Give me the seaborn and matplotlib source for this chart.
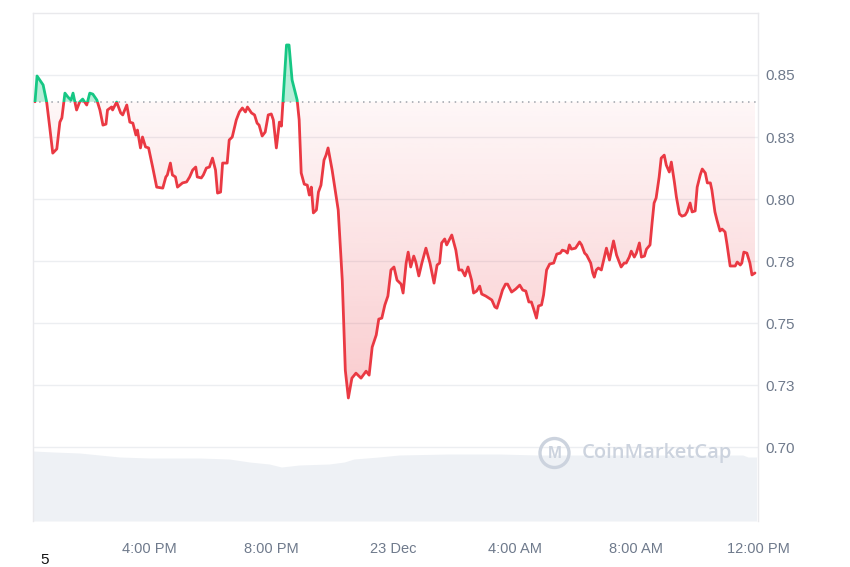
import matplotlib
matplotlib.use("Agg")
import matplotlib.pyplot as plt
from matplotlib.path import Path
from matplotlib.patches import Rectangle, Circle
import numpy as np
import pandas as pd
import seaborn as sns

# price, minutes after 12:00 PM on 22 Dec
minutes = [
    14, 18, 30, 37, 43, 49, 57, 63, 67, 73,
    79, 85, 89, 96, 102, 108, 116, 122, 128, 136,
    142, 148, 154, 157, 165, 167, 175, 183, 187, 195,
    201, 207, 213, 216, 222, 226, 232, 238, 246, 254,
    266, 272, 275, 281, 285, 291, 295, 305, 313, 319,
    325, 331, 334, 342, 346, 352, 358, 364, 370, 374,
    380, 384, 393, 397, 403, 411, 417, 423, 429, 433,
    441, 447, 452, 456, 462, 468, 474, 480, 484, 490,
    496, 500, 510, 515, 521, 531, 535, 539, 545, 551,
    555, 559, 563, 569, 573, 578, 584, 588, 592, 600,
    606, 612, 620, 626, 632, 639, 647, 657, 667, 673,
    679, 687, 692, 698, 704, 710, 716, 722, 728, 736,
    740, 746, 750, 755, 761, 765, 771, 777, 785, 793,
    801, 807, 812, 816, 822, 826, 836, 844, 850, 856,
    862, 868, 875, 879, 885, 891, 895, 903, 909, 915,
    921, 925, 932, 936, 942, 946, 954, 962, 970, 976,
    982, 988, 993, 997, 1003, 1007, 1013, 1017, 1023, 1029,
    1037, 1043, 1050, 1054, 1060, 1064, 1068, 1072, 1080, 1088,
    1092, 1098, 1102, 1110, 1114, 1117, 1121, 1125, 1131, 1137,
    1141, 1147, 1155, 1161, 1167, 1170, 1176, 1180, 1186, 1190,
    1196, 1200, 1206, 1210, 1216, 1220, 1227, 1231, 1235, 1239,
    1245, 1249, 1255, 1259, 1265, 1269, 1275, 1279, 1285, 1290,
    1296, 1300, 1306, 1310, 1316, 1320, 1326, 1330, 1336, 1340,
    1346, 1349, 1355, 1359, 1365, 1369, 1375, 1379, 1385, 1389,
    1395, 1399, 1405, 1408, 1412, 1418, 1424, 1428, 1434,
]
prices = [
    0.8392, 0.8496, 0.8460, 0.8391, 0.8290, 0.8185, 0.8202, 0.8310, 0.8327, 0.8427,
    0.8411, 0.8399, 0.8427, 0.8359, 0.8391, 0.8403, 0.8379, 0.8427, 0.8423, 0.8399,
    0.8359, 0.8298, 0.8302, 0.8359, 0.8371, 0.8359, 0.8391, 0.8347, 0.8339, 0.8379,
    0.8310, 0.8306, 0.8258, 0.8278, 0.8206, 0.8250, 0.8210, 0.8206, 0.8129, 0.8048,
    0.8044, 0.8089, 0.8097, 0.8145, 0.8097, 0.8089, 0.8048, 0.8065, 0.8069, 0.8089,
    0.8117, 0.8129, 0.8089, 0.8085, 0.8097, 0.8125, 0.8129, 0.8165, 0.8117, 0.8024,
    0.8028, 0.8145, 0.8145, 0.8238, 0.8250, 0.8319, 0.8351, 0.8367, 0.8351, 0.8371,
    0.8347, 0.8339, 0.8306, 0.8298, 0.8254, 0.8270, 0.8339, 0.8343, 0.8319, 0.8206,
    0.8310, 0.8294, 0.8621, 0.8621, 0.8480, 0.8399, 0.8319, 0.8105, 0.8060, 0.8056,
    0.8016, 0.8048, 0.7944, 0.7956, 0.8028, 0.8056, 0.8157, 0.8177, 0.8206, 0.8117,
    0.8036, 0.7956, 0.7673, 0.7310, 0.7198, 0.7278, 0.7298, 0.7278, 0.7306, 0.7290,
    0.7403, 0.7452, 0.7516, 0.7520, 0.7573, 0.7609, 0.7714, 0.7726, 0.7673, 0.7657,
    0.7621, 0.7742, 0.7786, 0.7726, 0.7770, 0.7746, 0.7690, 0.7742, 0.7802, 0.7742,
    0.7661, 0.7734, 0.7742, 0.7823, 0.7839, 0.7815, 0.7855, 0.7794, 0.7714, 0.7714,
    0.7690, 0.7726, 0.7673, 0.7621, 0.7629, 0.7649, 0.7617, 0.7609, 0.7601, 0.7593,
    0.7565, 0.7560, 0.7605, 0.7633, 0.7657, 0.7657, 0.7625, 0.7637, 0.7653, 0.7633,
    0.7629, 0.7585, 0.7585, 0.7560, 0.7520, 0.7569, 0.7573, 0.7613, 0.7714, 0.7738,
    0.7742, 0.7778, 0.7782, 0.7794, 0.7790, 0.7782, 0.7815, 0.7798, 0.7802, 0.7827,
    0.7815, 0.7782, 0.7774, 0.7742, 0.7702, 0.7685, 0.7714, 0.7722, 0.7714, 0.7766,
    0.7802, 0.7754, 0.7831, 0.7774, 0.7742, 0.7726, 0.7742, 0.7742, 0.7766, 0.7790,
    0.7766, 0.7782, 0.7823, 0.7766, 0.7770, 0.7798, 0.7815, 0.7903, 0.7984, 0.8004,
    0.8089, 0.8165, 0.8177, 0.8137, 0.8109, 0.8149, 0.8069, 0.8008, 0.7940, 0.7931,
    0.7935, 0.7948, 0.7984, 0.7948, 0.7952, 0.8048, 0.8097, 0.8121, 0.8105, 0.8065,
    0.8065, 0.8036, 0.7948, 0.7915, 0.7871, 0.7879, 0.7867, 0.7815, 0.7730, 0.7730,
    0.7730, 0.7746, 0.7734, 0.7742, 0.7786, 0.7782, 0.7742, 0.7694, 0.7702,
]
open_price = 0.8392

# volume (M), same time base
vol_minutes = [10, 51, 102, 181, 240, 338, 397, 437, 476, 500, 535, 594,
               624, 643, 692, 732, 830, 929, 1007, 1125, 1322, 1410, 1420, 1437]
volume = [70, 69, 68, 64, 63, 63, 62, 59, 57, 54, 56, 57,
          59, 62, 64, 66, 67, 67, 66, 66, 66, 66, 64, 64]

x_ticks = [240, 480, 720, 960, 1200, 1440]
x_labels = ["4:00 PM", "8:00 PM", "23 Dec", "4:00 AM", "8:00 AM", "12:00 PM"]
y_ticks = [0.70, 0.725, 0.75, 0.775, 0.80, 0.825, 0.85]
y_labels = ["0.70", "0.73", "0.75", "0.78", "0.80", "0.83", "0.85"]

RED = "#ea3943"
GREEN = "#16c784"
TEXT = "#6f7a8c"

assert len(minutes) == len(prices)
df = pd.DataFrame({"t": minutes, "price": prices})
vol = pd.DataFrame({"t": vol_minutes, "volume": volume})

sns.set_style("white")
plt.rcParams["font.family"] = ["Liberation Sans", "DejaVu Sans"]

fig = plt.figure(figsize=(8.5, 5.67), dpi=100)
ax = fig.add_axes([0.0388, 0.0811, 0.853, 0.896])
ax_vol = ax.twinx()
ax.set_zorder(ax_vol.get_zorder() + 1)
ax.patch.set_visible(False)

x0, x1 = 10, 1437
y0, y1 = 0.6702, 0.875

# volume band at the bottom
ax_vol.fill_between(vol["t"], vol["volume"], 0, color="#eef1f5", lw=0)
ax_vol.set_ylim(0, 508)
ax_vol.set_yticks([])
for s in ax_vol.spines.values():
    s.set_visible(False)

# green area above the open
ax.fill_between(df["t"], df["price"], open_price, where=df["price"] >= open_price,
                interpolate=True, color=GREEN, alpha=0.3, lw=0)

# red area below the open, fading gradient
red_fill = ax.fill_between(df["t"], df["price"], open_price,
                           where=df["price"] <= open_price,
                           interpolate=True, color="none", lw=0)
clip = Path.make_compound_path(*red_fill.get_paths())
grad = np.zeros((256, 1, 4))
grad[:, 0, :3] = matplotlib.colors.to_rgb(RED)
grad[:, 0, 3] = np.linspace(0.04, 0.26, 256)
im = ax.imshow(grad, extent=[x0, x1, min(prices), open_price], aspect="auto",
               origin="upper", zorder=1)
im.set_clip_path(clip, transform=ax.transData)

# open price reference line
ax.axhline(open_price, color="#9ea3ab", lw=1.1, ls=(0, (1, 3)), zorder=2)

# price line, split at the open
sns.lineplot(data=df, x="t", y="price", ax=ax, color=RED, lw=2, zorder=3)
ax.lines[-1].set_clip_path(Rectangle((x0, 0), x1 - x0, open_price,
                                     transform=ax.transData))
sns.lineplot(data=df, x="t", y="price", ax=ax, color=GREEN, lw=2, zorder=3)
ax.lines[-1].set_clip_path(Rectangle((x0, open_price), x1 - x0, 1,
                                     transform=ax.transData))

ax.set_xlim(x0, x1)
ax.set_ylim(y0, y1)
ax_vol.set_xlim(x0, x1)
ax.set_xlabel("")
ax.set_ylabel("")

ax.yaxis.tick_right()
ax.set_yticks(y_ticks, y_labels)
ax.set_xticks(x_ticks, x_labels)
ax.tick_params(axis="y", length=0, pad=5, labelsize=11, labelcolor=TEXT)
ax.tick_params(axis="x", length=0, pad=15, labelsize=10.5, labelcolor=TEXT)
ax.grid(axis="y", color="#eceef1", lw=1)
ax.grid(axis="x", visible=False)
for name in ["top", "left", "right"]:
    ax.spines[name].set_color("#e9e9ec")
    ax.spines[name].set_linewidth(1)
ax.spines["bottom"].set_visible(False)

# watermark
fig.patches.append(Circle((5.545, 1.14), 0.145, transform=fig.dpi_scale_trans,
                          fill=False, lw=2.4, ec="#ccd3de", zorder=10))
fig.text(5.545 / 8.5, 1.13 / 5.67, "M", ha="center", va="center", fontsize=12,
         fontweight="bold", color="#ccd3de", zorder=10)
fig.text(0.684, 0.201, "CoinMarketCap", ha="left", va="center", fontsize=14.5,
         fontweight="semibold", family=["Open Sans", "DejaVu Sans"],
         color="#ccd3de", zorder=10)

fig.text(40 / 850, 0.012, "5", ha="left", va="center", fontsize=11, color="#111111")

fig.savefig("out.png", dpi=100)
plt.close(fig)
